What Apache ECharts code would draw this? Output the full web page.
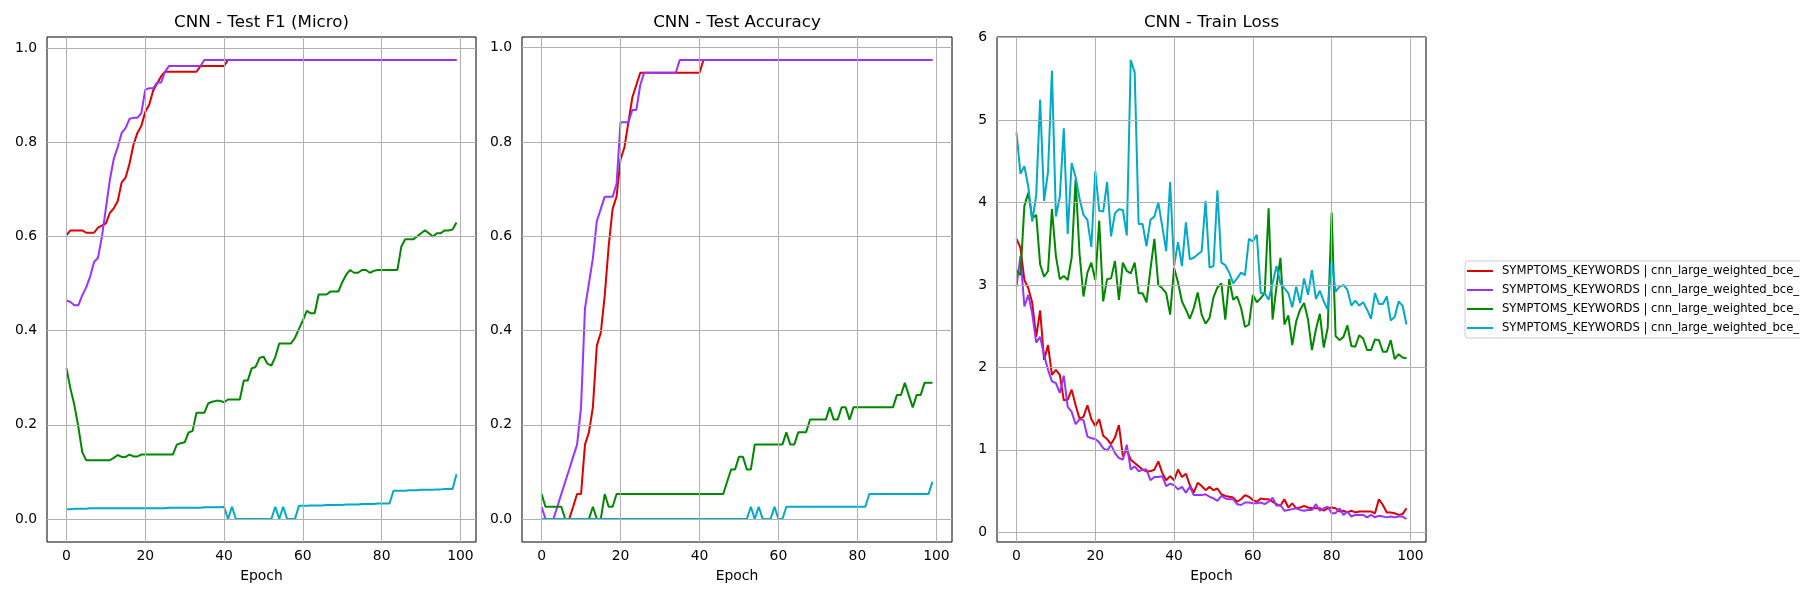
<!DOCTYPE html>
<html>
<head>
<meta charset="utf-8">
<title>CNN - training curves</title>
<script src="https://cdn.jsdelivr.net/npm/echarts@6/dist/echarts.min.js"></script>
<style>
  html, body { margin: 0; padding: 0; background: #ffffff; }
  #chart { width: 1800px; height: 600px; }
</style>
</head>
<body>
<div id="chart"></div>
<script>
// epoch index 0..99 (x positions)
const epochs = Array.from({ length: 100 }, (_, i) => i)

const xTicks = [0, 20, 40, 60, 80, 100]
const scoreTicks = [0, 0.2, 0.4, 0.6, 0.8, 1.0]
const lossTicks = [0, 1, 2, 3, 4, 5, 6]

const legendLabel = 'SYMPTOMS_KEYWORDS | cnn_large_weighted_bce_'
const runNames = ['run1', 'run2', 'run3', 'run4']
const colors = ['#dd0000', '#9933ff', '#008800', '#00aac8']

// Test F1 (micro)
const f1Red = [
  0.603, 0.613, 0.613, 0.613, 0.613, 0.608, 0.608, 0.608, 0.619, 0.623,
  0.628, 0.650, 0.660, 0.675, 0.715, 0.725, 0.755, 0.795, 0.820, 0.835,
  0.865, 0.880, 0.910, 0.925, 0.940, 0.950, 0.950, 0.950, 0.950, 0.950,
  0.950, 0.950, 0.950, 0.950, 0.962, 0.962, 0.962, 0.962, 0.962, 0.962,
  0.962, 0.975, 0.975, 0.975, 0.975, 0.975, 0.975, 0.975, 0.975, 0.975,
  0.975, 0.975, 0.975, 0.975, 0.975, 0.975, 0.975, 0.975, 0.975, 0.975,
  0.975, 0.975, 0.975, 0.975, 0.975, 0.975, 0.975, 0.975, 0.975, 0.975,
  0.975, 0.975, 0.975, 0.975, 0.975, 0.975, 0.975, 0.975, 0.975, 0.975,
  0.975, 0.975, 0.975, 0.975, 0.975, 0.975, 0.975, 0.975, 0.975, 0.975,
  0.975, 0.975, 0.975, 0.975, 0.975, 0.975, 0.975, 0.975, 0.975, 0.975
]
const f1Purple = [
  0.464, 0.461, 0.454, 0.454, 0.475, 0.492, 0.515, 0.546, 0.555, 0.600,
  0.660, 0.720, 0.765, 0.790, 0.820, 0.830, 0.850, 0.852, 0.852, 0.862,
  0.912, 0.915, 0.915, 0.927, 0.927, 0.950, 0.962, 0.962, 0.962, 0.962,
  0.962, 0.962, 0.962, 0.962, 0.962, 0.975, 0.975, 0.975, 0.975, 0.975,
  0.975, 0.975, 0.975, 0.975, 0.975, 0.975, 0.975, 0.975, 0.975, 0.975,
  0.975, 0.975, 0.975, 0.975, 0.975, 0.975, 0.975, 0.975, 0.975, 0.975,
  0.975, 0.975, 0.975, 0.975, 0.975, 0.975, 0.975, 0.975, 0.975, 0.975,
  0.975, 0.975, 0.975, 0.975, 0.975, 0.975, 0.975, 0.975, 0.975, 0.975,
  0.975, 0.975, 0.975, 0.975, 0.975, 0.975, 0.975, 0.975, 0.975, 0.975,
  0.975, 0.975, 0.975, 0.975, 0.975, 0.975, 0.975, 0.975, 0.975, 0.975
]
const f1Green = [
  0.320, 0.277, 0.242, 0.196, 0.142, 0.125, 0.125, 0.125, 0.125, 0.125,
  0.125, 0.125, 0.130, 0.136, 0.132, 0.132, 0.137, 0.133, 0.133, 0.137,
  0.137, 0.137, 0.137, 0.137, 0.137, 0.137, 0.137, 0.137, 0.158, 0.161,
  0.163, 0.184, 0.187, 0.226, 0.226, 0.226, 0.246, 0.249, 0.251, 0.251,
  0.248, 0.254, 0.254, 0.254, 0.254, 0.294, 0.294, 0.320, 0.323, 0.342,
  0.345, 0.330, 0.326, 0.344, 0.373, 0.373, 0.373, 0.373, 0.385, 0.404,
  0.422, 0.442, 0.437, 0.437, 0.477, 0.477, 0.477, 0.483, 0.483, 0.483,
  0.503, 0.519, 0.529, 0.523, 0.523, 0.529, 0.529, 0.523, 0.527, 0.529,
  0.529, 0.529, 0.529, 0.529, 0.529, 0.579, 0.594, 0.594, 0.594, 0.600,
  0.607, 0.613, 0.607, 0.600, 0.607, 0.607, 0.613, 0.613, 0.615, 0.630
]
const f1Cyan = [
  0.021, 0.021, 0.022, 0.022, 0.022, 0.022, 0.023, 0.023, 0.023, 0.023,
  0.023, 0.023, 0.023, 0.023, 0.023, 0.023, 0.023, 0.023, 0.023, 0.023,
  0.023, 0.023, 0.023, 0.023, 0.023, 0.023, 0.024, 0.024, 0.024, 0.024,
  0.024, 0.024, 0.024, 0.024, 0.024, 0.025, 0.025, 0.025, 0.025, 0.025,
  0.026, 0.000, 0.026, 0.000, 0.000, 0.000, 0.000, 0.000, 0.000, 0.000,
  0.000, 0.000, 0.000, 0.026, 0.000, 0.026, 0.000, 0.000, 0.000, 0.028,
  0.028, 0.028, 0.029, 0.029, 0.029, 0.029, 0.030, 0.030, 0.030, 0.030,
  0.030, 0.031, 0.031, 0.031, 0.031, 0.032, 0.032, 0.032, 0.032, 0.033,
  0.033, 0.033, 0.033, 0.060, 0.060, 0.060, 0.060, 0.061, 0.061, 0.061,
  0.062, 0.062, 0.062, 0.062, 0.063, 0.063, 0.064, 0.064, 0.064, 0.095
]

// Test accuracy
const accRed = [
  0.000, 0.000, 0.000, 0.000, 0.000, 0.000, 0.000, 0.000, 0.026, 0.053,
  0.053, 0.158, 0.184, 0.237, 0.368, 0.395, 0.474, 0.579, 0.658, 0.684,
  0.763, 0.789, 0.842, 0.895, 0.921, 0.947, 0.947, 0.947, 0.947, 0.947,
  0.947, 0.947, 0.947, 0.947, 0.947, 0.947, 0.947, 0.947, 0.947, 0.947,
  0.947, 0.974, 0.974, 0.974, 0.974, 0.974, 0.974, 0.974, 0.974, 0.974,
  0.974, 0.974, 0.974, 0.974, 0.974, 0.974, 0.974, 0.974, 0.974, 0.974,
  0.974, 0.974, 0.974, 0.974, 0.974, 0.974, 0.974, 0.974, 0.974, 0.974,
  0.974, 0.974, 0.974, 0.974, 0.974, 0.974, 0.974, 0.974, 0.974, 0.974,
  0.974, 0.974, 0.974, 0.974, 0.974, 0.974, 0.974, 0.974, 0.974, 0.974,
  0.974, 0.974, 0.974, 0.974, 0.974, 0.974, 0.974, 0.974, 0.974, 0.974
]
const accPurple = [
  0.026, 0.000, 0.000, 0.000, 0.026, 0.053, 0.079, 0.105, 0.132, 0.158,
  0.237, 0.447, 0.500, 0.553, 0.632, 0.658, 0.684, 0.684, 0.684, 0.711,
  0.842, 0.842, 0.842, 0.868, 0.868, 0.921, 0.947, 0.947, 0.947, 0.947,
  0.947, 0.947, 0.947, 0.947, 0.947, 0.974, 0.974, 0.974, 0.974, 0.974,
  0.974, 0.974, 0.974, 0.974, 0.974, 0.974, 0.974, 0.974, 0.974, 0.974,
  0.974, 0.974, 0.974, 0.974, 0.974, 0.974, 0.974, 0.974, 0.974, 0.974,
  0.974, 0.974, 0.974, 0.974, 0.974, 0.974, 0.974, 0.974, 0.974, 0.974,
  0.974, 0.974, 0.974, 0.974, 0.974, 0.974, 0.974, 0.974, 0.974, 0.974,
  0.974, 0.974, 0.974, 0.974, 0.974, 0.974, 0.974, 0.974, 0.974, 0.974,
  0.974, 0.974, 0.974, 0.974, 0.974, 0.974, 0.974, 0.974, 0.974, 0.974
]
const accGreen = [
  0.053, 0.026, 0.026, 0.026, 0.026, 0.026, 0.000, 0.000, 0.000, 0.000,
  0.000, 0.000, 0.000, 0.026, 0.000, 0.000, 0.053, 0.026, 0.026, 0.053,
  0.053, 0.053, 0.053, 0.053, 0.053, 0.053, 0.053, 0.053, 0.053, 0.053,
  0.053, 0.053, 0.053, 0.053, 0.053, 0.053, 0.053, 0.053, 0.053, 0.053,
  0.053, 0.053, 0.053, 0.053, 0.053, 0.053, 0.053, 0.079, 0.105, 0.105,
  0.132, 0.132, 0.105, 0.105, 0.158, 0.158, 0.158, 0.158, 0.158, 0.158,
  0.158, 0.158, 0.184, 0.158, 0.158, 0.184, 0.184, 0.184, 0.211, 0.211,
  0.211, 0.211, 0.211, 0.237, 0.211, 0.211, 0.237, 0.237, 0.211, 0.237,
  0.237, 0.237, 0.237, 0.237, 0.237, 0.237, 0.237, 0.237, 0.237, 0.237,
  0.263, 0.263, 0.289, 0.263, 0.237, 0.263, 0.263, 0.289, 0.289, 0.289
]
const accCyan = [
  0.000, 0.000, 0.000, 0.000, 0.000, 0.000, 0.000, 0.000, 0.000, 0.000,
  0.000, 0.000, 0.000, 0.000, 0.000, 0.000, 0.000, 0.000, 0.000, 0.000,
  0.000, 0.000, 0.000, 0.000, 0.000, 0.000, 0.000, 0.000, 0.000, 0.000,
  0.000, 0.000, 0.000, 0.000, 0.000, 0.000, 0.000, 0.000, 0.000, 0.000,
  0.000, 0.000, 0.000, 0.000, 0.000, 0.000, 0.000, 0.000, 0.000, 0.000,
  0.000, 0.000, 0.000, 0.026, 0.000, 0.026, 0.000, 0.000, 0.000, 0.026,
  0.000, 0.000, 0.026, 0.026, 0.026, 0.026, 0.026, 0.026, 0.026, 0.026,
  0.026, 0.026, 0.026, 0.026, 0.026, 0.026, 0.026, 0.026, 0.026, 0.026,
  0.026, 0.026, 0.026, 0.053, 0.053, 0.053, 0.053, 0.053, 0.053, 0.053,
  0.053, 0.053, 0.053, 0.053, 0.053, 0.053, 0.053, 0.053, 0.053, 0.079
]

// Train loss
const lossRed = [
  3.56, 3.45, 3.06, 2.96, 2.78, 2.37, 2.69, 2.09, 2.27, 1.91,
  1.97, 1.91, 1.60, 1.61, 1.73, 1.54, 1.38, 1.40, 1.54, 1.37,
  1.29, 1.37, 1.17, 1.13, 1.07, 1.15, 1.30, 0.92, 1.00, 0.88,
  0.84, 0.80, 0.76, 0.74, 0.74, 0.76, 0.86, 0.72, 0.63, 0.68,
  0.63, 0.76, 0.67, 0.71, 0.57, 0.48, 0.60, 0.56, 0.51, 0.55,
  0.51, 0.53, 0.46, 0.44, 0.43, 0.42, 0.37, 0.40, 0.45, 0.43,
  0.39, 0.37, 0.41, 0.40, 0.40, 0.37, 0.34, 0.32, 0.40, 0.30,
  0.35, 0.29, 0.30, 0.32, 0.30, 0.29, 0.29, 0.29, 0.26, 0.29,
  0.30, 0.29, 0.25, 0.26, 0.24, 0.26, 0.24, 0.25, 0.25, 0.25,
  0.25, 0.23, 0.40, 0.33, 0.24, 0.24, 0.23, 0.21, 0.22, 0.29
]
const lossPurple = [
  2.98, 3.35, 2.74, 2.88, 2.65, 2.30, 2.37, 2.15, 1.97, 1.83,
  1.81, 1.69, 1.90, 1.52, 1.46, 1.31, 1.37, 1.36, 1.16, 1.14,
  1.13, 1.09, 1.02, 0.99, 1.06, 0.96, 0.90, 0.88, 1.06, 0.76,
  0.80, 0.74, 0.76, 0.76, 0.63, 0.67, 0.67, 0.68, 0.56, 0.59,
  0.57, 0.52, 0.55, 0.48, 0.55, 0.45, 0.45, 0.45, 0.46, 0.43,
  0.41, 0.38, 0.44, 0.41, 0.40, 0.40, 0.34, 0.33, 0.36, 0.36,
  0.35, 0.35, 0.36, 0.34, 0.37, 0.42, 0.32, 0.33, 0.26, 0.27,
  0.28, 0.29, 0.27, 0.26, 0.27, 0.27, 0.34, 0.26, 0.29, 0.31,
  0.23, 0.23, 0.29, 0.21, 0.25, 0.19, 0.21, 0.21, 0.21, 0.18,
  0.21, 0.18, 0.20, 0.19, 0.18, 0.19, 0.18, 0.19, 0.19, 0.16
]
const lossGreen = [
  3.18, 3.12, 3.96, 4.12, 3.81, 3.85, 3.25, 3.10, 3.17, 3.92,
  3.35, 3.07, 3.11, 3.06, 3.33, 4.28, 3.38, 2.86, 3.15, 3.27,
  3.06, 3.78, 2.80, 3.07, 3.08, 3.29, 2.82, 3.27, 3.17, 3.14,
  3.27, 2.90, 2.90, 2.79, 3.19, 3.56, 3.00, 2.96, 2.90, 2.64,
  3.21, 3.03, 2.80, 2.70, 2.59, 2.72, 2.91, 2.64, 2.53, 2.60,
  2.85, 2.97, 3.02, 2.58, 3.07, 2.82, 2.86, 2.72, 2.49, 2.52,
  2.88, 2.79, 2.84, 2.90, 3.93, 2.58, 2.98, 3.33, 2.52, 2.63,
  2.27, 2.56, 2.70, 2.78, 2.58, 2.21, 2.46, 2.65, 2.24, 2.48,
  3.88, 2.38, 2.33, 2.37, 2.51, 2.26, 2.25, 2.39, 2.35, 2.21,
  2.21, 2.34, 2.33, 2.19, 2.19, 2.33, 2.10, 2.16, 2.12, 2.11
]
const lossCyan = [
  4.85, 4.35, 4.44, 4.19, 3.77, 4.09, 5.25, 4.02, 4.37, 5.60,
  3.83, 4.07, 4.90, 3.62, 4.48, 4.31, 4.05, 3.85, 3.79, 3.46,
  4.38, 3.90, 3.89, 4.25, 3.59, 3.87, 3.92, 3.91, 3.60, 5.73,
  5.58, 3.74, 3.74, 3.47, 3.79, 3.83, 4.00, 3.71, 3.41, 4.25,
  3.23, 3.52, 3.23, 3.76, 3.31, 3.33, 3.37, 3.41, 4.02, 3.21,
  3.23, 4.15, 3.27, 3.24, 3.15, 3.02, 3.08, 3.15, 3.12, 3.56,
  3.53, 3.61, 2.90, 2.90, 2.82, 3.02, 3.23, 3.02, 2.96, 2.90,
  2.73, 2.98, 2.78, 3.08, 2.88, 3.18, 2.83, 2.93, 2.80, 2.70,
  3.29, 2.92, 2.98, 3.00, 2.94, 2.75, 2.81, 2.75, 2.79, 2.70,
  2.59, 2.90, 2.77, 2.77, 2.86, 2.57, 2.61, 2.80, 2.75, 2.52
]

const font = 'DejaVu Sans'
const chart = echarts.init(document.getElementById('chart'), null, { renderer: 'canvas' })

// one panel per metric
const panels = [
  { title: 'CNN - Test F1 (Micro)', left: 47, width: 429, ymin: -0.04875, ymax: 1.02375, ticks: scoreTicks, digits: 1,
    lines: [f1Red, f1Purple, f1Green, f1Cyan] },
  { title: 'CNN - Test Accuracy', left: 522, width: 430, ymin: -0.0487, ymax: 1.0228, ticks: scoreTicks, digits: 1,
    lines: [accRed, accPurple, accGreen, accCyan] },
  { title: 'CNN - Train Loss', left: 997, width: 429, ymin: -0.119, ymax: 6.009, ticks: lossTicks, digits: 0,
    lines: [lossRed, lossPurple, lossGreen, lossCyan] }
]

const tickStyle = { show: true, length: 5, lineStyle: { color: '#000', width: 1 } }

const option = {
  backgroundColor: '#ffffff',
  animation: false,
  title: panels.map(p => ({
    text: p.title,
    left: p.left + p.width / 2,
    top: 14,
    padding: 0,
    textAlign: 'center',
    textStyle: { fontFamily: font, fontSize: 16.7, fontWeight: 'normal', color: '#000' }
  })),
  legend: {
    orient: 'vertical',
    left: 1465,
    top: 261,
    icon: 'rect',
    itemWidth: 26,
    itemHeight: 2,
    itemGap: 5,
    padding: [3, 4, 3, 2],
    borderColor: '#cccccc',
    borderWidth: 1,
    borderRadius: 3,
    backgroundColor: 'rgba(255,255,255,0.8)',
    formatter: () => legendLabel + '\u00a0'.repeat(8),
    textStyle: { fontFamily: font, fontSize: 11.6, lineHeight: 14, color: '#000', padding: [0, 0, 0, 4] },
    data: runNames
  },
  grid: panels.map(p => ({
    left: p.left, top: 37, width: p.width, height: 505,
    show: true, borderColor: '#000', borderWidth: 1, backgroundColor: '#fff'
  })),
  xAxis: panels.map((p, i) => ({
    type: 'value',
    gridIndex: i,
    min: -4.95,
    max: 103.95,
    name: 'Epoch',
    nameLocation: 'middle',
    nameGap: 27,
    nameTextStyle: { fontFamily: font, fontSize: 13.9, color: '#000' },
    axisLine: { show: false },
    axisTick: Object.assign({ customValues: xTicks }, tickStyle),
    axisLabel: { customValues: xTicks, margin: 7, fontFamily: font, fontSize: 13.9, color: '#000' },
    splitLine: { show: false }
  })),
  yAxis: panels.map((p, i) => ({
    type: 'value',
    gridIndex: i,
    min: p.ymin,
    max: p.ymax,
    axisLine: { show: false },
    axisTick: Object.assign({ customValues: p.ticks }, tickStyle),
    axisLabel: {
      customValues: p.ticks, margin: 10, fontFamily: font, fontSize: 13.9, color: '#000',
      formatter: v => Number(v).toFixed(p.digits)
    },
    splitLine: { show: false }
  })),
  series: []
}

panels.forEach((p, i) => {
  // grid lines only at the labelled ticks, drawn under the curves
  option.series.push({
    type: 'line',
    name: 'grid' + i,
    xAxisIndex: i,
    yAxisIndex: i,
    data: [],
    z: 1,
    silent: true,
    markLine: {
      silent: true,
      symbol: ['none', 'none'],
      label: { show: false },
      lineStyle: { color: '#b0b0b0', width: 1, type: 'solid' },
      emphasis: { disabled: true },
      data: xTicks.map(v => ({ xAxis: v })).concat(p.ticks.map(v => ({ yAxis: v })))
    }
  })
  p.lines.forEach((vals, k) => {
    option.series.push({
      type: 'line',
      name: runNames[k],
      xAxisIndex: i,
      yAxisIndex: i,
      z: 2,
      showSymbol: false,
      symbol: 'none',
      silent: true,
      lineStyle: { color: colors[k], width: 2 },
      itemStyle: { color: colors[k] },
      data: epochs.map((e, j) => [e, vals[j]])
    })
  })
})

chart.setOption(option)
</script>
</body>
</html>
